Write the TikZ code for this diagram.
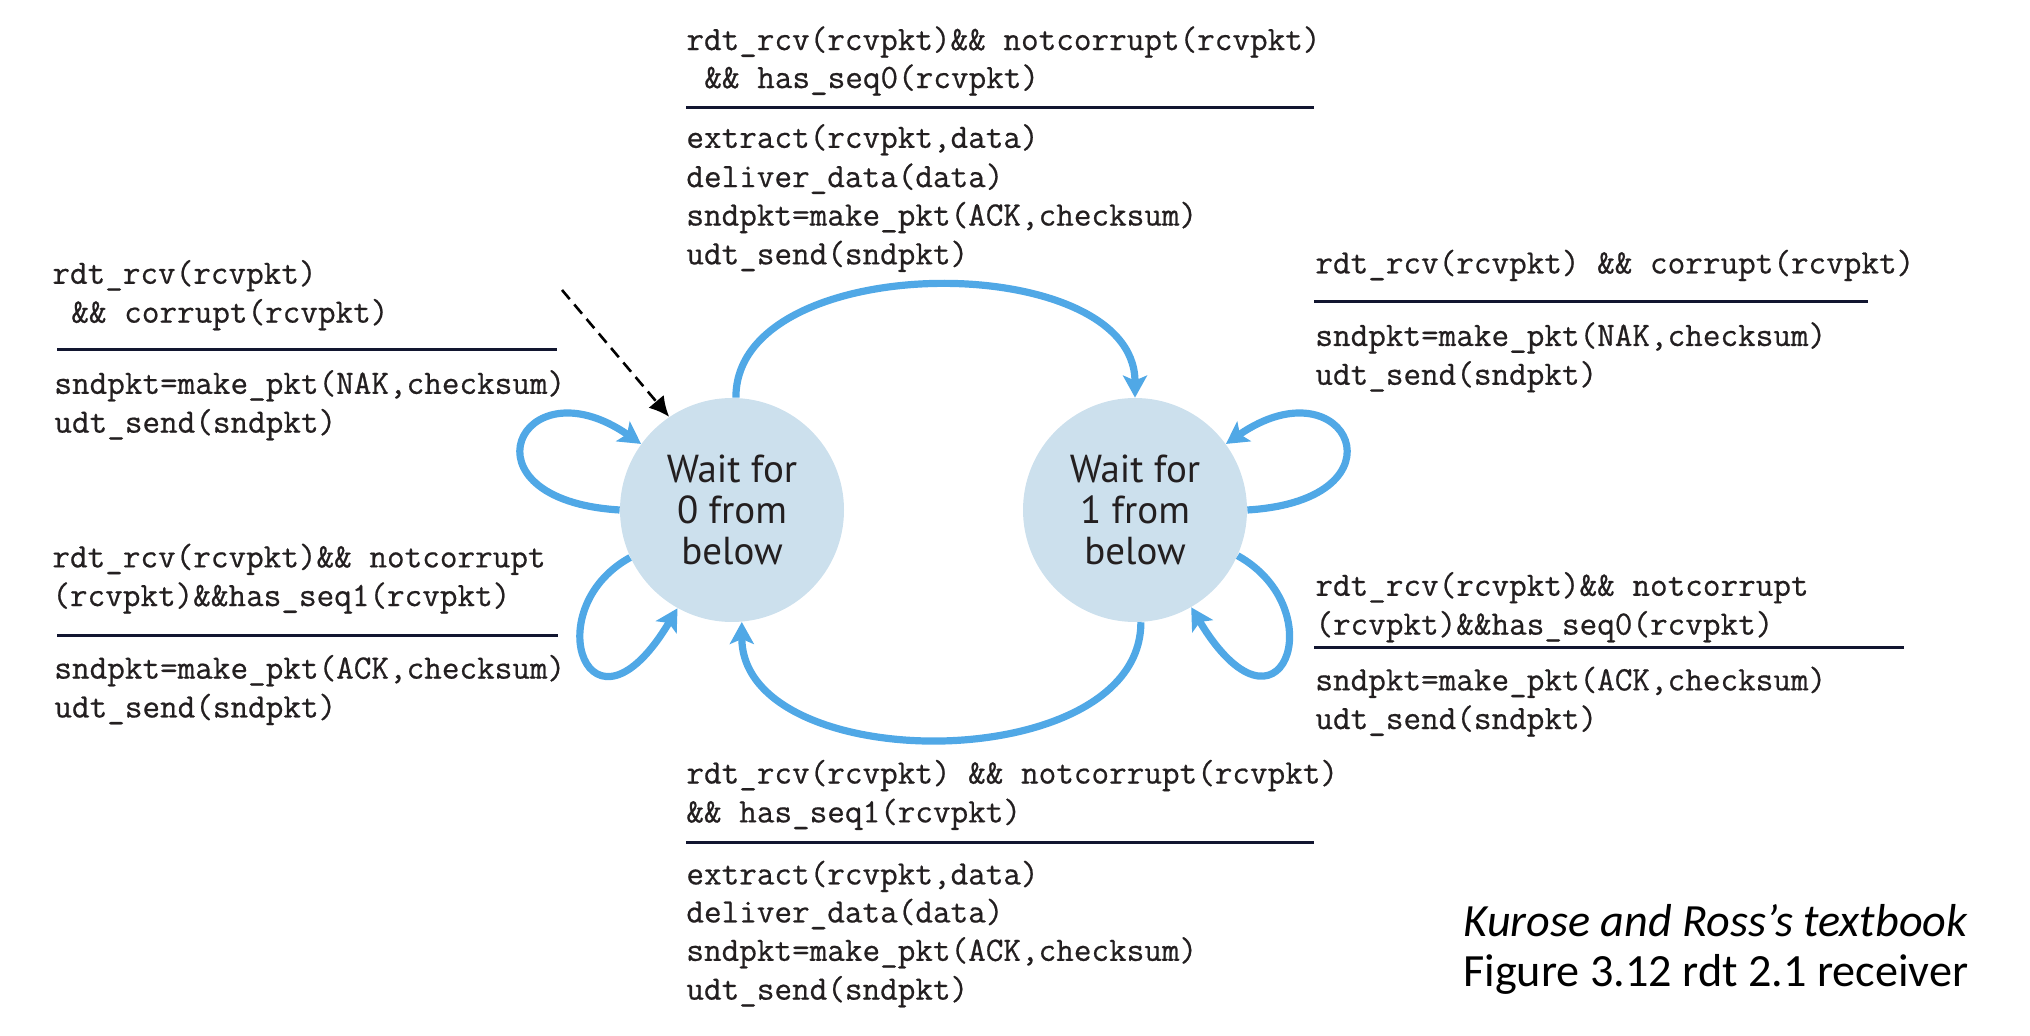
\documentclass[tikz,border=0pt]{standalone}
\usepackage{fontspec}
\setmainfont{PT Sans}
\newfontfamily\codefont{Latin Modern Mono}[FakeBold=0.6]
\newfontfamily\capfont{Carlito}
\usetikzlibrary{arrows.meta}
\definecolor{stfill}{RGB}{204,224,237}
\definecolor{arrblue}{RGB}{80,168,230}
\definecolor{rulecol}{RGB}{18,22,48}
\definecolor{txt}{RGB}{35,31,32}
\begin{document}
\begin{tikzpicture}[x=0.5pt,y=-0.5pt,
  code/.style={anchor=west,inner sep=0pt,font=\codefont\fontsize{17.1pt}{19.4pt}\selectfont,text=txt},
  state/.style={circle,fill=stfill,inner sep=0pt,minimum size=112pt,align=center,text=txt,
    font=\fontsize{19.5pt}{20.4pt}\selectfont},
  trans/.style={draw=arrblue,line width=3.6pt,-{Stealth[length=11pt,width=12pt,inset=2.5pt]}},
  rulex/.style={draw=rulecol,line width=1.7pt},
  initarr/.style={draw=black,line width=1.3pt,dash pattern=on 6pt off 3.5pt,-{Latex[length=10pt,width=10pt]}},
  capt/.style={anchor=west,inner sep=0pt,text=black,font=\capfont\fontsize{23.1pt}{27pt}\selectfont}
]
\useasboundingbox (0,0) rectangle (2030,1036);

% states
\node[state] (s0) at (732,510) {Wait for\\0 from\\below};
\node[state] (s1) at (1135,510) {Wait for\\1 from\\below};

% initial arrow
\coordinate (init) at (562,290);
\draw[initarr] (init) -- (s0.124);

% transitions
\draw[trans] (s0.88) .. controls (735,248) and (1135,248) .. (s1.90);
\draw[trans] (s1.273) .. controls (1141,778) and (742,778) .. (s0.275);
\draw[trans] (s0.180) .. controls (455,500) and (520,360) .. (s0.144);
\draw[trans] (s0.205) .. controls (535,610) and (590,755) .. (s0.241);
\draw[trans] (s1.0) .. controls (1412,500) and (1347,360) .. (s1.36);
\draw[trans] (s1.336) .. controls (1335,610) and (1280,755) .. (s1.300);

% top block
\node[code] (t1) at (686,42) {rdt\_rcv(rcvpkt)\&\& notcorrupt(rcvpkt)};
\node[code] (t2) at (704,80) {\&\& has\_seq0(rcvpkt)};
\draw[rulex] (686,107.5) -- (1314,107.5);
\node[code] (t3) at (686,139.8) {extract(rcvpkt,data)};
\node[code] (t4) at (686,178.7) {deliver\_data(data)};
\node[code] (t5) at (686,217.5) {sndpkt=make\_pkt(ACK,checksum)};
\node[code] (t6) at (686,256.3) {udt\_send(sndpkt)};

% left top block
\node[code] (l1) at (52,275.7) {rdt\_rcv(rcvpkt)};
\node[code] (l2) at (71,314.6) {\&\& corrupt(rcvpkt)};
\draw[rulex] (57,349.5) -- (557,349.5);
\node[code] (l3) at (54,385.8) {sndpkt=make\_pkt(NAK,checksum)};
\node[code] (l4) at (54,424.6) {udt\_send(sndpkt)};

% left bottom block
\node[code] (l5) at (52,559.3) {rdt\_rcv(rcvpkt)\&\& notcorrupt};
\node[code] (l6) at (52,598) {(rcvpkt)\&\&has\_seq1(rcvpkt)};
\draw[rulex] (57,635.6) -- (558,635.6);
\node[code] (l7) at (54,670.6) {sndpkt=make\_pkt(ACK,checksum)};
\node[code] (l8) at (54,709.4) {udt\_send(sndpkt)};

% right top block
\node[code] (r1) at (1315,265.4) {rdt\_rcv(rcvpkt) \&\& corrupt(rcvpkt)};
\draw[rulex] (1314,301.6) -- (1868,301.6);
\node[code] (r2) at (1315,337.9) {sndpkt=make\_pkt(NAK,checksum)};
\node[code] (r3) at (1315,376.7) {udt\_send(sndpkt)};

% right bottom block
\node[code] (r4) at (1315,587.7) {rdt\_rcv(rcvpkt)\&\& notcorrupt};
\node[code] (r5) at (1315,626.6) {(rcvpkt)\&\&has\_seq0(rcvpkt)};
\draw[rulex] (1314,647.3) -- (1904,647.3);
\node[code] (r6) at (1315,682.3) {sndpkt=make\_pkt(ACK,checksum)};
\node[code] (r7) at (1315,721) {udt\_send(sndpkt)};

% bottom block
\node[code] (b1) at (686,775.5) {rdt\_rcv(rcvpkt) \&\& notcorrupt(rcvpkt)};
\node[code] (b2) at (686,814.3) {\&\& has\_seq1(rcvpkt)};
\draw[rulex] (686,842.8) -- (1314,842.8);
\node[code] (b3) at (686,876.4) {extract(rcvpkt,data)};
\node[code] (b4) at (686,914) {deliver\_data(data)};
\node[code] (b5) at (686,952.8) {sndpkt=make\_pkt(ACK,checksum)};
\node[code] (b6) at (686,991.6) {udt\_send(sndpkt)};

% caption
\node[capt] (c1) at (1463,920.5) {\itshape Kurose and Ross’s textbook};
\node[capt] (c2) at (1463,974.8) {Figure 3.12 rdt 2.1 receiver};
\end{tikzpicture}
\end{document}
